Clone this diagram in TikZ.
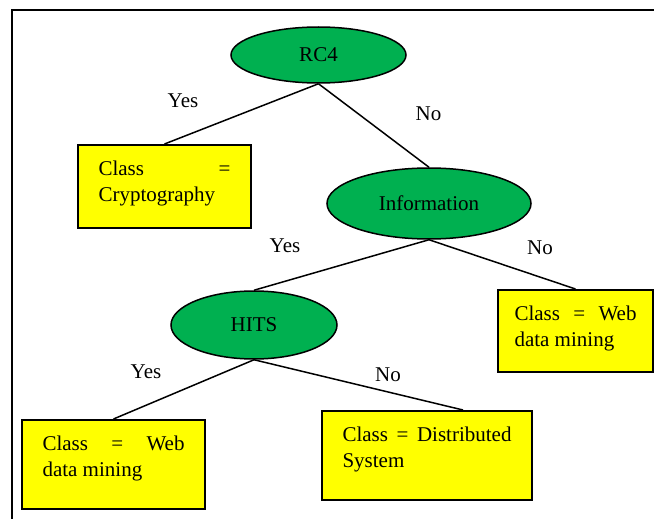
\documentclass[tikz,border=0pt]{standalone}
\usepackage{fontspec}
\setmainfont{Liberation Serif}
\usetikzlibrary{shapes.geometric}
\definecolor{testgreen}{RGB}{0,176,80}
\definecolor{leafyellow}{RGB}{255,255,0}
\hyphenpenalty=10000
\newcommand{\leaftext}[3]{\parbox[c][#2][t]{#1}{#3}}

\begin{document}
\begin{tikzpicture}[x=0.5pt,y=-0.5pt,
    font=\fontsize{10.5}{12.75}\selectfont,
    test/.style={ellipse, draw, line width=0.75pt, fill=testgreen},
    leaf/.style={rectangle, draw, line width=1pt, fill=leafyellow, anchor=north west, inner xsep=10.25pt, inner ysep=8pt},
    branch/.style={anchor=base},
    edge/.style={line width=0.75pt}]
\useasboundingbox (0,0) rectangle (654,519);
\draw[line width=1pt] (654,10) -- (12,10) -- (12,519);
% tests
\node[test, minimum width=87.5pt, minimum height=28pt] (rc4) at (318.5,55) {RC4};
\node[test, minimum width=102pt, minimum height=35.5pt] (info) at (429,203.5) {Information};
\node[test, minimum width=83pt, minimum height=34pt] (hits) at (254,325) {HITS};
% leaves
\node[leaf] (crypt) at (77,144) {\leaftext{66pt}{25.5pt}{Class =\linebreak Cryptography}};
\node[leaf, inner xsep=8.25pt] (webr) at (497,289) {\leaftext{61pt}{25pt}{Class = Web\linebreak data mining}};
\node[leaf] (webl) at (21,419) {\leaftext{71pt}{28.5pt}{Class = Web\linebreak data mining}};
\node[leaf] (dist) at (321,410) {\leaftext{84.5pt}{28.5pt}{Class = Distributed\linebreak System}};
% branches
\draw[edge] (rc4.south) -- (crypt.north);
\draw[edge] (rc4.south) -- (info.north);
\draw[edge] (info.south) -- (hits.north);
\draw[edge] (info.south) -- (webr.north);
\draw[edge] (hits.south) -- (webl.north);
\draw[edge] (hits.south) -- ([xshift=18pt]dist.north);
\node[branch] (yes1) at (183,108) {Yes};
\node[branch] (no1) at (428.5,121) {No};
\node[branch] (yes2) at (285,253) {Yes};
\node[branch] (no2) at (540,255) {No};
\node[branch] (yes3) at (146,378) {Yes};
\node[branch] (no3) at (388,381) {No};
\end{tikzpicture}
\end{document}
